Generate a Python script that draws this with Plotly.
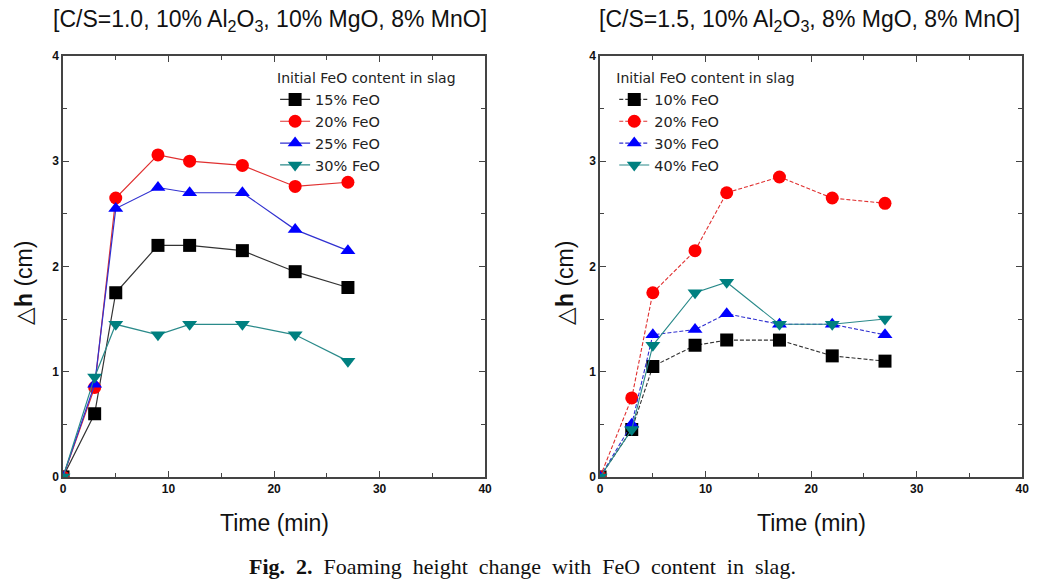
import plotly.graph_objects as go

time_min = [0, 3, 5, 9, 12, 17, 22, 27]

# Left panel: C/S=1.0
left_names = ["15% FeO", "20% FeO", "25% FeO", "30% FeO"]
left_15 = [0, 0.60, 1.75, 2.20, 2.20, 2.15, 1.95, 1.80]
left_20 = [0, 0.85, 2.65, 3.06, 3.00, 2.96, 2.76, 2.80]
left_25 = [0, 0.88, 2.55, 2.75, 2.70, 2.70, 2.35, 2.15]
left_30 = [0, 0.95, 1.45, 1.35, 1.45, 1.45, 1.35, 1.10]

# Right panel: C/S=1.5
right_names = ["10% FeO", "20% FeO", "30% FeO", "40% FeO"]
right_10 = [0, 0.45, 1.05, 1.25, 1.30, 1.30, 1.15, 1.10]
right_20 = [0, 0.75, 1.75, 2.15, 2.70, 2.85, 2.65, 2.60]
right_30 = [0, 0.50, 1.35, 1.40, 1.55, 1.45, 1.45, 1.35]
right_40 = [0, 0.45, 1.25, 1.75, 1.85, 1.45, 1.45, 1.50]

x_ticks = [0, 10, 20, 30, 40]
y_ticks = [0, 1, 2, 3, 4]

colors = ["#000000", "#ff0000", "#0000ff", "#008080"]
line_colors = ["#333333", "#e03030", "#3030d0", "#2a8a8a"]
symbols = ["square", "circle", "triangle-up", "triangle-down"]

fig = go.Figure()

for i, (name, ys) in enumerate(zip(left_names, [left_15, left_20, left_25, left_30])):
    fig.add_trace(go.Scatter(
        x=time_min, y=ys, name=name, mode="lines+markers",
        xaxis="x", yaxis="y", legend="legend",
        line=dict(color=line_colors[i], width=1.2),
        marker=dict(color=colors[i], symbol=symbols[i], size=13, line=dict(width=0)),
    ))

for i, (name, ys) in enumerate(zip(right_names, [right_10, right_20, right_30, right_40])):
    fig.add_trace(go.Scatter(
        x=time_min, y=ys, name=name, mode="lines+markers",
        xaxis="x2", yaxis="y2", legend="legend2",
        line=dict(color=line_colors[i], width=1.1, dash="4px,2px" if i < 3 else "solid"),
        marker=dict(color=colors[i], symbol=symbols[i], size=13, line=dict(width=0)),
    ))

tickfont = dict(family="Liberation Sans Narrow, Liberation Sans, Arial", size=12, color="#111")

def xaxis(domain, anchor):
    return dict(domain=domain, anchor=anchor, range=[0, 40], tickvals=x_ticks,
                ticktext=[f"<b>{t}</b>" for t in x_ticks], tickfont=tickfont, automargin=False,
                showgrid=False, zeroline=False, showline=True, linecolor="#444",
                linewidth=1.5, mirror="ticks", ticks="inside", ticklen=6,
                tickcolor="#444", minor=dict(dtick=5, ticks="inside", ticklen=4, tickcolor="#444"))

def yaxis(domain, anchor):
    return dict(domain=domain, anchor=anchor, range=[0, 4], tickvals=y_ticks,
                ticktext=[f"<b>{t}</b>" for t in y_ticks], tickfont=tickfont, automargin=False,
                showgrid=False, zeroline=False, showline=True, linecolor="#444",
                linewidth=1.5, mirror="ticks", ticks="inside", ticklen=6,
                tickcolor="#444", minor=dict(dtick=0.5, ticks="inside", ticklen=4, tickcolor="#444"))

ydom = [0.182, 0.904]
legfont = dict(family="DejaVu Sans, Liberation Sans, Arial", size=14.5, color="#222")
legtitle = dict(text="Initial FeO content in slag", font=dict(family="DejaVu Sans, Liberation Sans, Arial", size=14, color="#222"))
fig.update_layout(
    width=1050, height=583,
    margin=dict(l=0, r=0, t=0, b=0, autoexpand=False),
    paper_bgcolor="white", plot_bgcolor="white",
    xaxis=xaxis([0.06, 0.462], "y"),
    yaxis=yaxis(ydom, "x"),
    xaxis2=xaxis([0.5715, 0.9735], "y2"),
    yaxis2=yaxis(ydom, "x2"),
    legend=dict(x=0.262, y=0.888, xanchor="left", yanchor="top", font=legfont, title=legtitle,
                bgcolor="rgba(0,0,0,0)", tracegroupgap=0, itemwidth=30),
    legend2=dict(x=0.585, y=0.888, xanchor="left", yanchor="top", font=legfont, title=legtitle,
                 bgcolor="rgba(0,0,0,0)", tracegroupgap=0, itemwidth=30),
    showlegend=True,
)

title_font = dict(family="Liberation Sans, Arial", size=23, color="#111")
axis_title_font = dict(family="Liberation Sans Narrow, Liberation Sans, Arial", size=23, color="#111")
annotations = [
    dict(text="[C/S=1.0, 10% Al<sub>2</sub>O<sub>3</sub>, 10% MgO, 8% MnO]", x=270, y=21),
    dict(text="[C/S=1.5, 10% Al<sub>2</sub>O<sub>3</sub>, 8% MgO, 8% MnO]", x=809, y=21),
]
anns = []
for a in annotations:
    anns.append(dict(text=a["text"], x=a["x"] / 1050, y=1 - a["y"] / 583, xref="paper", yref="paper",
                     showarrow=False, font=title_font, xanchor="center", yanchor="middle"))
for xc in [274, 811]:
    anns.append(dict(text="Time (min)", x=xc / 1050, y=1 - 523 / 583, xref="paper", yref="paper",
                     showarrow=False, font=axis_title_font, xanchor="center", yanchor="middle"))
for xc in [24, 565]:
    anns.append(dict(text="△<b>h</b> (cm)", x=xc / 1050, y=1 - 283 / 583, xref="paper", yref="paper",
                     showarrow=False, font=dict(family="Liberation Sans, Arial", size=23, color="#111"),
                     textangle=-90, xanchor="center", yanchor="middle"))
anns.append(dict(text="<b>Fig.&nbsp; 2.</b>&nbsp; Foaming&nbsp; height&nbsp; change&nbsp; with&nbsp; FeO&nbsp; content&nbsp; in&nbsp; slag.",
                 x=522 / 1050, y=1 - 566 / 583, xref="paper", yref="paper", showarrow=False,
                 font=dict(family="Liberation Serif, Times New Roman", size=22, color="#111"),
                 xanchor="center", yanchor="middle"))
fig.update_layout(annotations=anns)

fig.write_html("out.html", config={"displayModeBar": False})

# remove default body margin so the figure sits at the page origin
with open("out.html", "r", encoding="utf-8") as f:
    html = f.read()
html = html.replace("<body>", '<body style="margin:0;padding:0;overflow:hidden;">', 1)
with open("out.html", "w", encoding="utf-8") as f:
    f.write(html)
